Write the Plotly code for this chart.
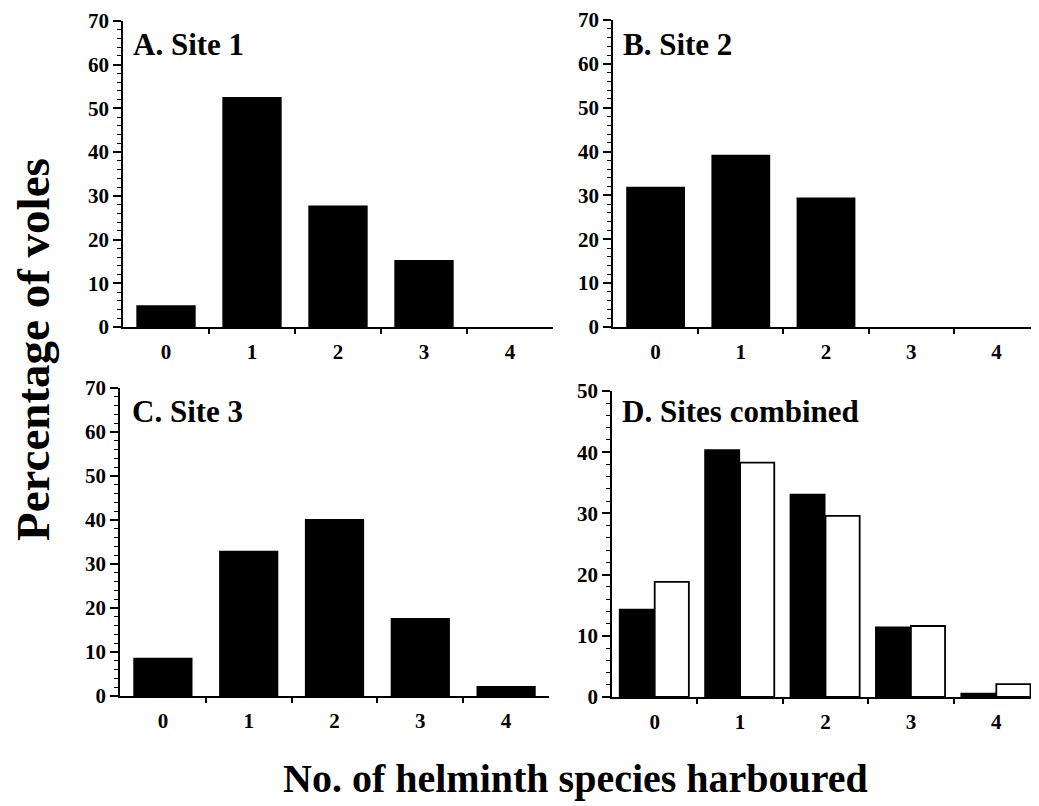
import plotly.graph_objects as go

categories = [0, 1, 2, 3, 4]
tick_labels = ["0", "1", "2", "3", "4"]
site1 = [5.0, 52.6, 27.8, 15.3, 0]
site2 = [32.0, 39.3, 29.5, 0, 0]
site3 = [8.7, 33.0, 40.2, 17.7, 2.3]
combined_black = [14.4, 40.5, 33.2, 11.5, 0.7]
combined_white = [18.8, 38.3, 29.6, 11.6, 2.1]

# page body has a default 8px margin; compensate so that positions match the reference
OFF = 8
W, H = 1039 - OFF, 806 - OFF
FONT = "Liberation Serif"

def fx(px):
    return min(1.0, max(0.0, (px - OFF) / W))

def fy(py):
    return min(1.0, max(0.0, 1 - (py - OFF) / H))

fig = go.Figure()

bar_w = 0.69
blk = dict(color="black", line=dict(color="black", width=0))
fig.add_trace(go.Bar(x=categories, y=site1, width=bar_w, marker=blk, xaxis="x", yaxis="y", showlegend=False))
fig.add_trace(go.Bar(x=categories, y=site2, width=bar_w, marker=blk, xaxis="x2", yaxis="y2", showlegend=False))
fig.add_trace(go.Bar(x=categories, y=site3, width=bar_w, marker=blk, xaxis="x3", yaxis="y3", showlegend=False))
fig.add_trace(go.Bar(x=categories, y=combined_black, width=0.42, offset=-0.42, marker=blk, xaxis="x4", yaxis="y4", showlegend=False))
fig.add_trace(go.Bar(x=categories, y=combined_white, width=0.40, offset=0.0,
                     marker=dict(color="white", line=dict(color="black", width=1.8)),
                     xaxis="x4", yaxis="y4", showlegend=False))

tick_font = dict(family=FONT, size=21, color="black", weight="bold")

def xax(domain, anchor):
    return dict(domain=domain, anchor=anchor, range=[-0.5, 4.5], tickmode="array",
                tickvals=categories, ticktext=tick_labels, ticks="outside", ticklen=5,
                tickcolor="rgba(0,0,0,0)", showline=True, linecolor="black", linewidth=1.5,
                showgrid=False, zeroline=False, tickfont=tick_font, fixedrange=True, automargin=False,
                ticklabeloverflow="allow",
                minor=dict(tickmode="array", tickvals=[0.5, 1.5, 2.5, 3.5], ticks="outside",
                           ticklen=5, tickcolor="black", tickwidth=1.5, showgrid=False))

def yax(domain, anchor, top):
    return dict(domain=domain, anchor=anchor, range=[0, top], tickmode="linear", tick0=0, dtick=10,
                ticks="outside", ticklen=8, tickwidth=1.5, tickcolor="black",
                showline=True, linecolor="black", linewidth=1.5, showgrid=False, zeroline=False,
                tickfont=tick_font, fixedrange=True, automargin=False, ticklabeloverflow="allow",
                minor=dict(dtick=2, ticks="outside", ticklen=4, tickwidth=1, tickcolor="black", showgrid=False))

fig.update_layout(
    width=W, height=H,
    margin=dict(l=0, r=0, t=0, b=0, autoexpand=False),
    paper_bgcolor="white", plot_bgcolor="white",
    barmode="overlay",
    xaxis=xax([fx(123), fx(553)], "y"),
    yaxis=yax([fy(327), fy(21)], "x", 70),
    xaxis2=xax([fx(613), 1.0], "y2"),
    yaxis2=yax([fy(327), fy(20)], "x2", 70),
    xaxis3=xax([fx(120), fx(549)], "y3"),
    yaxis3=yax([fy(696), fy(388)], "x3", 70),
    xaxis4=xax([fx(612), 1.0], "y4"),
    yaxis4=yax([fy(697), fy(391)], "x4", 50),
)

title_font = dict(family=FONT, size=31, color="black", weight="bold")
panel_titles = [("A. Site 1", 131, 45), ("B. Site 2", 621, 45), ("C. Site 3", 130, 411), ("D. Sites combined", 620, 411)]
for text, px, py in panel_titles:
    fig.add_annotation(text=text, xref="paper", yref="paper", x=fx(px), y=fy(py),
                       xanchor="left", yanchor="middle", showarrow=False, font=title_font)

fig.add_annotation(text="Percentage of voles", xref="paper", yref="paper", x=fx(33), y=fy(350),
                   xanchor="center", yanchor="middle", textangle=-90, showarrow=False,
                   font=dict(family=FONT, size=47, color="black", weight="bold"))
fig.add_annotation(text="No. of helminth species harboured", xref="paper", yref="paper", x=fx(575), y=fy(778),
                   xanchor="center", yanchor="middle", showarrow=False,
                   font=dict(family=FONT, size=40, color="black", weight="bold"))

fig.write_html("out.html")
